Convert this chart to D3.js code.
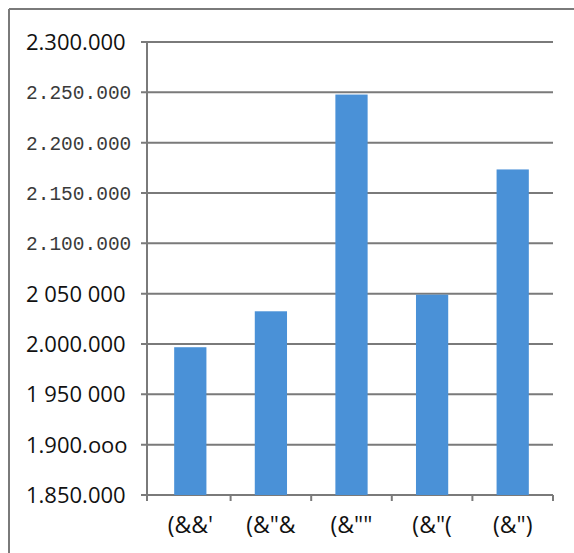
<!DOCTYPE html>
<html>
<head>
<meta charset="utf-8">
<script src="https://cdn.jsdelivr.net/npm/d3@7"></script>
<style>
  html, body { margin: 0; padding: 0; background: #fff; }
  svg { display: block; }
</style>
</head>
<body>
<svg id="chart" width="574" height="553"></svg>
<script>
// Category labels along the bottom axis
const categories = ["(&&'", "(&\"&", "(&\"\"", "(&\"(", "(&\")"];
// Bar heights
const values = [1996800, 2032500, 2247800, 2049000, 2173400];
// Y tick values and their printed labels
const tickValues = [1850000, 1900000, 1950000, 2000000, 2050000, 2100000, 2150000, 2200000, 2250000, 2300000];
const tickLabels = ["1.850.000", "1.900.ooo", "1 950 000", "2.000.000", "2 050 000",
                    "2.100.000", "2.150.000", "2.200.000", "2.250.000", "2.300.000"];

const svg = d3.select("#chart");
const W = 574, H = 553;

// frame lines (left and top)
svg.append("line").attr("x1", 9).attr("y1", 9).attr("x2", 9).attr("y2", H)
  .attr("stroke", "#7a7a7a").attr("stroke-width", 2);
svg.append("line").attr("x1", 9).attr("y1", 9).attr("x2", W).attr("y2", 9)
  .attr("stroke", "#7a7a7a").attr("stroke-width", 2);

const axisX = 147, plotRight = 553;
const y = d3.scaleLinear().domain([1850000, 2300000]).range([495, 42]);
const x = d3.scaleBand().domain(categories).range([150, plotRight])
  .paddingInner(0.6).paddingOuter(0.3);

const grid = "#7a7a7a";

// horizontal gridlines with short tick stubs left of the axis
svg.append("g").selectAll("line").data(tickValues).join("line")
  .attr("x1", axisX - 6).attr("x2", plotRight)
  .attr("y1", d => y(d)).attr("y2", d => y(d))
  .attr("stroke", grid).attr("stroke-width", 2);

// vertical axis
svg.append("line").attr("x1", axisX).attr("x2", axisX)
  .attr("y1", y(2300000)).attr("y2", y(1850000) + 6)
  .attr("stroke", grid).attr("stroke-width", 2);

// bars
svg.append("g").selectAll("rect").data(values).join("rect")
  .attr("x", (d, i) => x(categories[i]))
  .attr("width", x.bandwidth())
  .attr("y", d => y(d))
  .attr("height", d => y(1850000) - y(d))
  .attr("fill", "#4a91d7");

// bottom axis ticks at category boundaries
const bounds = categories.map(c => x(c) + x.bandwidth() + x.step() * x.paddingInner() / 2);
bounds[bounds.length - 1] = plotRight;
svg.append("g").selectAll("line").data(bounds).join("line")
  .attr("x1", d => d).attr("x2", d => d)
  .attr("y1", y(1850000)).attr("y2", y(1850000) + 6)
  .attr("stroke", grid).attr("stroke-width", 2);

// category labels
svg.append("g").selectAll("text").data(categories).join("text")
  .attr("x", d => x(d) + x.bandwidth() / 2)
  .attr("y", 533)
  .attr("text-anchor", "middle")
  .attr("font-family", "'Open Sans', sans-serif")
  .attr("font-size", 23)
  .attr("fill", "#111")
  .text(d => d);

// y labels; a few are set in a monospaced face
const monoRows = new Set([5, 6, 7, 8]);
svg.append("g").selectAll("text").data(tickValues).join("text")
  .attr("x", 26)
  .attr("y", d => y(d))
  .attr("dy", "0.36em")
  .attr("text-anchor", "start")
  .attr("font-family", (d, i) => monoRows.has(i) ? "'Liberation Mono', monospace" : "'Open Sans', sans-serif")
  .attr("font-size", (d, i) => monoRows.has(i) ? 19.5 : 22)
  .attr("fill", (d, i) => monoRows.has(i) ? "#3a3a3a" : "#111")
  .text((d, i) => tickLabels[i]);
</script>
</body>
</html>
